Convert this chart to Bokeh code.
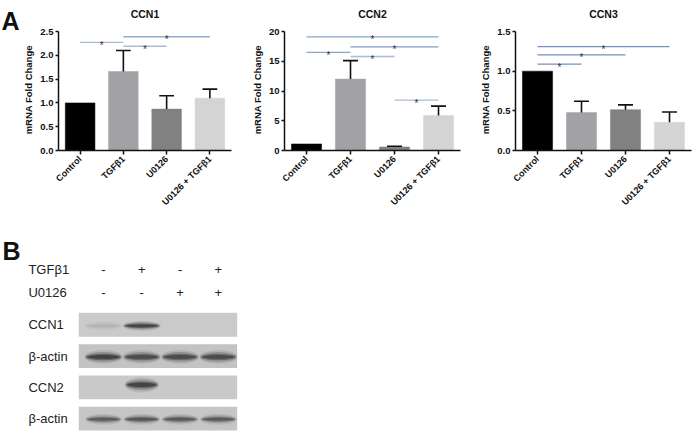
from math import pi
from bokeh.plotting import figure
from bokeh.models import Range1d, FixedTicker, ColumnDataSource
from bokeh.layouts import row, column
from bokeh.embed import file_html
from bokeh.resources import INLINE
from bokeh.core.properties import value

FONT = "Liberation Sans"

# ---------------- data ----------------
groups = ["Control", "TGFβ1", "U0126", "U0126 + TGFβ1"]
bar_colors = ["#000000", "#a2a2a6", "#818181", "#d4d4d4"]

ccn1_mean = [1.00, 1.66, 0.87, 1.10]
ccn1_err_top = [1.00, 2.10, 1.15, 1.29]
ccn1_sig = [(0, 1, 2.27), (1, 2, 2.19), (1, 3, 2.39)]
ccn1_yticks = [0, 0.5, 1.0, 1.5, 2.0, 2.5]
ccn1_ylabels = ["0.0", "0.5", "1.0", "1.5", "2.0", "2.5"]

ccn2_mean = [1.10, 12.0, 0.60, 5.90]
ccn2_err_top = [1.10, 15.1, 0.72, 7.45]
ccn2_sig = [(0, 3, 19.1), (1, 3, 17.4), (0, 1, 16.5), (1, 2, 15.8), (2, 3, 8.45)]
ccn2_yticks = [0, 5, 10, 15, 20]
ccn2_ylabels = ["0", "5", "10", "15", "20"]

ccn3_mean = [1.00, 0.48, 0.515, 0.355]
ccn3_err_top = [1.00, 0.62, 0.575, 0.485]
ccn3_sig = [(0, 3, 1.31), (0, 2, 1.205), (0, 1, 1.09)]
ccn3_yticks = [0, 0.5, 1.0, 1.5]
ccn3_ylabels = ["0.0", "0.5", "1.0", "1.5"]

# western blot (panel B)
lanes = [0, 1, 2, 3]
tgf_signs = ["-", "+", "-", "+"]
u0126_signs = ["-", "-", "+", "+"]
blot_rows = ["CCN1", "β-actin", "CCN2", "β-actin"]
band_intensity = [
    [0.10, 0.95, 0.0, 0.0],
    [0.95, 0.85, 0.85, 0.85],
    [0.0, 0.95, 0.0, 0.0],
    [0.70, 0.75, 0.72, 0.72],
]

# ---------------- layout constants ----------------
PANEL_H = 230
BOTTOM = 80
FRAME_H = PANEL_H - BOTTOM          # frame spans the whole top area
AXIS_TOP = 31                       # pixel row where the y axis ends
TITLE_Y = 13                        # pixel row of the chart titles
YLABEL_PAD = "\u2003" * 3           # keeps the axis title centred on the drawn axis
SIG_COLORS = {
    "CCN1": ["#a7bbd7", "#a7bbd7", "#94abcf"],
    "CCN2": ["#8ba4ca", "#7f9bc5", "#8ba4ca", "#a9bdd8", "#a9bdd8"],
    "CCN3": ["#7391bf", "#7391bf", "#7391bf"],
}


def make_chart(title, means, tops, sig, yticks, ylabels, ymax, width, left, right, sig_colors):
    unit = (FRAME_H - AXIS_TOP) / ymax          # pixels per data unit
    y_end = ymax + AXIS_TOP / unit
    p = figure(width=width, height=PANEL_H, x_range=Range1d(-0.5, 3.5),
               y_range=Range1d(0, y_end), output_backend="svg", toolbar_location=None,
               min_border_left=left, min_border_right=right, min_border_top=0,
               min_border_bottom=BOTTOM)
    p.outline_line_color = None
    p.xgrid.visible = False
    p.ygrid.visible = False
    p.background_fill_color = "white"

    p.text(x=[1.5], y=[ymax + (AXIS_TOP - TITLE_Y) / unit], text=[title],
           text_font=value(FONT), text_font_size="10.5px", text_font_style="bold",
           text_align="center", text_baseline="middle", text_color="#111111")

    src = ColumnDataSource(dict(x=list(range(len(groups))), top=means, color=bar_colors))
    p.vbar(x="x", top="top", width=0.685, fill_color="color", line_color="color",
           line_width=0.5, source=src)

    ex = [i for i in range(len(groups)) if tops[i] > means[i]]
    p.segment(x0=ex, y0=[means[i] for i in ex], x1=ex, y1=[tops[i] for i in ex],
              line_color="#111111", line_width=1.6)
    p.segment(x0=[i - 0.17 for i in ex], y0=[tops[i] for i in ex],
              x1=[i + 0.17 for i in ex], y1=[tops[i] for i in ex],
              line_color="#111111", line_width=1.6)

    p.segment(x0=[s[0] for s in sig], y0=[s[2] for s in sig],
              x1=[s[1] for s in sig], y1=[s[2] for s in sig],
              line_color=sig_colors, line_width=1.3)
    p.text(x=[(s[0] + s[1]) / 2 for s in sig], y=[s[2] for s in sig], text=["*"] * len(sig),
           text_font=value(FONT), text_font_size="10px", text_align="center",
           text_baseline="alphabetic", text_color="#333333", y_offset=3)

    ya = p.yaxis[0]
    ya.ticker = FixedTicker(ticks=yticks)
    ya.major_label_overrides = {t: l for t, l in zip(yticks, ylabels)}
    ya.axis_label = "mRNA Fold Change" + YLABEL_PAD
    ya.bounds = (0, ymax)
    xa = p.xaxis[0]
    xa.ticker = FixedTicker(ticks=list(range(len(groups))))
    xa.major_label_overrides = {i: g for i, g in enumerate(groups)}
    xa.major_label_orientation = pi / 4
    for ax in (xa, ya):
        ax.axis_line_width = 1.5
        ax.axis_line_color = "#111111"
        ax.major_tick_line_width = 1.5
        ax.major_tick_line_color = "#111111"
        ax.major_tick_in = 0
        ax.major_tick_out = 3
        ax.minor_tick_line_color = None
        ax.major_label_text_font = FONT
        ax.major_label_text_font_size = "9.5px"
        ax.major_label_text_font_style = "bold"
        ax.major_label_text_color = "#111111"
        ax.axis_label_text_font = FONT
        ax.axis_label_text_font_size = "9.5px"
        ax.axis_label_text_font_style = "bold"
        ax.axis_label_text_color = "#111111"
    xa.major_label_text_font_size = "9px"
    ya.major_label_standoff = 2
    ya.axis_label_standoff = 3
    xa.major_label_standoff = 3
    xa.major_tick_out = 4
    return p


# panel letter A in a narrow strip (y in pixel rows, top = 0)
pA = figure(width=20, height=PANEL_H, x_range=Range1d(0, 20), y_range=Range1d(FRAME_H, 0),
            output_backend="svg", toolbar_location=None, x_axis_type=None, y_axis_type=None,
            min_border=0, min_border_bottom=BOTTOM)
pA.outline_line_color = None
pA.xgrid.visible = False
pA.ygrid.visible = False
pA.text(x=[1], y=[20], text=["A"], text_font=value(FONT), text_font_size="25px",
        text_font_style="bold", text_align="left", text_baseline="alphabetic",
        text_color="#111111")

p1 = make_chart("CCN1", ccn1_mean, ccn1_err_top, ccn1_sig, ccn1_yticks, ccn1_ylabels, 2.5,
                218, 35, 7, SIG_COLORS["CCN1"])
p2 = make_chart("CCN2", ccn2_mean, ccn2_err_top, ccn2_sig, ccn2_yticks, ccn2_ylabels, 20,
                231, 46, 9, SIG_COLORS["CCN2"])
p3 = make_chart("CCN3", ccn3_mean, ccn3_err_top, ccn3_sig, ccn3_yticks, ccn3_ylabels, 1.5,
                223, 46, 1, SIG_COLORS["CCN3"])

# ---------------- panel B: western blot ----------------
PB_W, PB_H = 692, 431 - PANEL_H
pb = figure(width=PB_W, height=PB_H, x_range=Range1d(-2.689, 15.38), y_range=Range1d(3.41, -3.01),
            output_backend="svg", toolbar_location=None, x_axis_type=None, y_axis_type=None,
            min_border=0)
pb.outline_line_color = None
pb.xgrid.visible = False
pb.ygrid.visible = False

row_y = list(range(len(blot_rows)))
strip_h = 0.76
pb.quad(left=[-0.645] * 4, right=[3.49] * 4, top=[y - strip_h / 2 for y in row_y],
        bottom=[y + strip_h / 2 for y in row_y],
        fill_color=["#cacaca", "#c3c3c3", "#c9c9c9", "#c6c6c6"], line_color=None)

band_dy = [0.035, 0.03, -0.08, 0.02]
band_h = [0.15, 0.20, 0.22, 0.16]
band_w = [0.95, 0.95, 0.86, 0.92]
for r, ints in enumerate(band_intensity):
    xs = [l for l in lanes if ints[l] > 0]
    ys = [row_y[r] + band_dy[r]] * len(xs)
    for hs, ws, a in [(2.2, 1.05, 0.10), (1.6, 1.0, 0.22), (1.0, 0.95, 0.38), (0.6, 0.85, 0.4)]:
        pb.ellipse(x=xs, y=ys, width=[band_w[r] * ws] * len(xs),
                   height=[band_h[r] * hs] * len(xs), fill_color="#111111",
                   fill_alpha=[ints[l] * a for l in xs], line_color=None)

label_x = -1.96
pb.text(x=[label_x] * 4, y=row_y, text=blot_rows, text_font=value(FONT), text_font_size="13px",
        text_align="left", text_baseline="middle", text_color="#222222")
pb.text(x=[label_x, label_x], y=[-1.76, -1.03], text=["TGFβ1", "U0126"], text_font=value(FONT),
        text_font_size="13px", text_align="left", text_baseline="middle", text_color="#222222")
pb.text(x=lanes, y=[-1.76] * 4, text=tgf_signs, text_font=value(FONT), text_font_size="13px",
        text_align="center", text_baseline="middle", text_color="#222222")
pb.text(x=lanes, y=[-1.03] * 4, text=u0126_signs, text_font=value(FONT), text_font_size="13px",
        text_align="center", text_baseline="middle", text_color="#222222")
pb.text(x=[-2.64], y=[-2.37], text=["B"], text_font=value(FONT), text_font_size="25px",
        text_font_style="bold", text_align="left", text_baseline="middle", text_color="#111111")

layout = column(row(pA, p1, p2, p3), pb)
open("out.html", "w").write(file_html(layout, INLINE))
